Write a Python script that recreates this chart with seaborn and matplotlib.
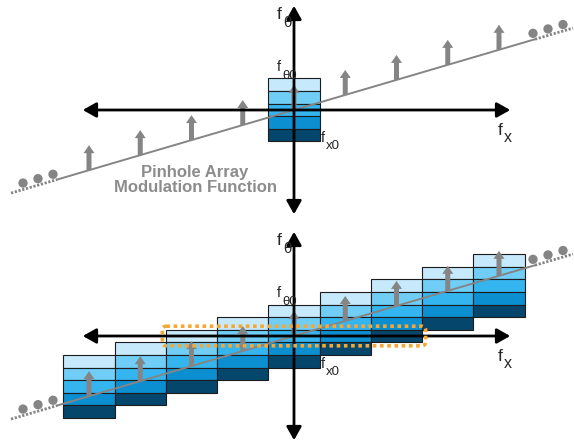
import numpy as np
import pandas as pd
import matplotlib.pyplot as plt
import seaborn as sns
from matplotlib.patches import Rectangle, FancyArrowPatch, FancyBboxPatch

# sample indices of the pinhole array (one box / arrow per sample)
samples = [-4, -3, -2, -1, 0, 1, 2, 3, 4]
# band colours of one box, top to bottom
band_colors = ['#c6e9fc', '#6fcdf6', '#35b5f0', '#0b8fd1', '#05466c']
# row shift of each box in the lower panel (in bands)
box_shift = [-4, -3, -2, -1, 0, 1, 2, 3, 4]
# samples covered by the highlighted row
highlight = [-2, -1, 0, 1, 2]
panels = ['top', 'bottom']
dots_left = [23, 38, 53]
dots_right = [533, 548, 563]

# diagram geometry in pixels
ox = 294
oy = {'top': 110, 'bottom': 336}
pitch = 51.25
band_h = 12.6
slope = 0.2936
arrow_len = 25
gray = '#858585'

sns.set_theme(style='white')
plt.rcParams['font.family'] = ['Liberation Sans', 'DejaVu Sans']

fig = plt.figure(figsize=(5.74, 4.44), dpi=100)
ax = fig.add_axes([0, 0, 1, 1])
ax.set_xlim(0, 574)
ax.set_ylim(444, 0)
ax.axis('off')


def label(x, y, main, sub, size, subsize, dx, dy):
    # main letter and its subscript, both at their baselines
    ax.text(x, y, main, fontsize=size, ha='left', va='baseline', zorder=7)
    ax.text(x + dx, y + dy, sub, fontsize=subsize, ha='left', va='baseline', zorder=7)


for p in panels:
    y0 = oy[p]
    line_y = lambda x: y0 - slope * (np.asarray(x) - ox)

    # boxes
    ks = [0] if p == 'top' else samples
    for k in ks:
        cx = ox + k * pitch
        shift = 0 if p == 'top' else box_shift[samples.index(k)]
        top = y0 - 2.5 * band_h - shift * band_h
        for i, c in enumerate(band_colors):
            ax.add_patch(Rectangle((cx - pitch / 2, top + i * band_h), pitch, band_h,
                                   fc=c, ec='#1c1c1c', lw=0.8, zorder=2))

    # sheared line with dotted ends
    seg = pd.DataFrame({'x': [57, 535]})
    seg['y'] = line_y(seg['x'])
    sns.lineplot(data=seg, x='x', y='y', color=gray, lw=1.4, ax=ax, zorder=3)
    for xa, xb in [(11, 57), (535, 573)]:
        ax.plot([xa, xb], line_y([xa, xb]), color=gray, lw=2, ls=(0, (0.8, 0.6)),
                zorder=3)

    # ellipsis dots
    dl = pd.DataFrame({'x': dots_left + dots_right})
    dl['y'] = line_y(dl['x']) - 6.5
    sns.scatterplot(data=dl, x='x', y='y', s=45, color=gray, edgecolor='none',
                    ax=ax, zorder=3)

    # modulation arrows
    for k in samples:
        x = ox + k * pitch
        ax.arrow(x, float(line_y(x)), 0, -arrow_len, width=5, head_width=11,
                 head_length=8, length_includes_head=True, fc=gray, ec='none',
                 zorder=4)

    # coordinate axes
    style = '<|-|>,head_length=0.8,head_width=0.45'
    ax.add_patch(FancyArrowPatch((80, y0), (513, y0), arrowstyle=style,
                                 mutation_scale=10, color='black', lw=2, zorder=5))
    ax.add_patch(FancyArrowPatch((ox, y0 + 107), (ox, y0 - 107), arrowstyle=style,
                                 mutation_scale=10, color='black', lw=2, zorder=5))

    label(276.5, y0 - 91, 'f', 'θ', 12.5, 11, 6.5, 8)
    label(497.5, y0 + 25, 'f', 'x', 12.5, 11.5, 6, 7)
    label(277, y0 - 39, 'f', 'θ0', 10.5, 9.5, 5, 8)
    label(320.5, y0 + 32, 'f', 'x0', 10.5, 9.5, 5, 6.5)

ax.text(195, 180, 'Pinhole Array\nModulation Function', color='#8c8c8c', fontsize=12,
        fontweight='bold', ha='center', va='center', linespacing=1.05, zorder=7)

# highlighted row in the lower panel (the band shared by the middle boxes)
x_left = ox + min(highlight) * pitch - pitch / 2
x_right = ox + max(highlight) * pitch + pitch / 2
row_top = oy['bottom'] - 0.5 * band_h
ax.add_patch(FancyBboxPatch((x_left, row_top), x_right - x_left, band_h,
                            boxstyle='round,pad=3.5,rounding_size=4', fc='none',
                            ec='#f7a834', lw=2.6, ls=(0, (1, 1)), zorder=6))

fig.savefig('out.png', dpi=100)
